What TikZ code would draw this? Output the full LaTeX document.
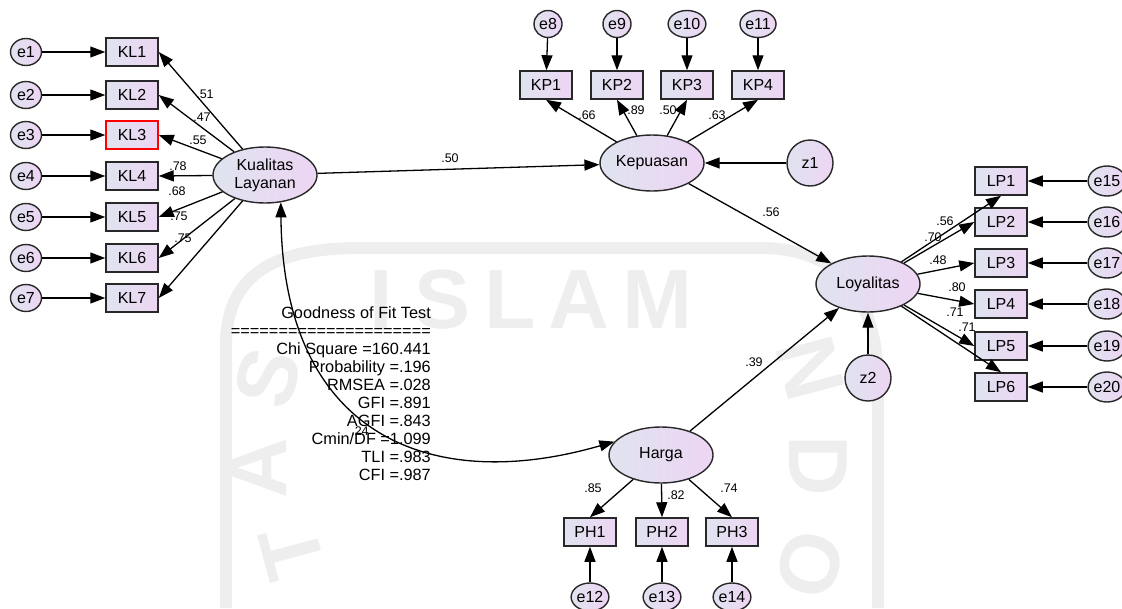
\documentclass[tikz,border=0pt]{standalone}
\usepackage{fontspec}
\setmainfont{Liberation Sans}
\usetikzlibrary{arrows.meta,shapes.geometric}
\definecolor{lcol}{RGB}{224,227,240}
\definecolor{rcol}{RGB}{237,213,243}
\definecolor{wmc}{RGB}{238,238,238}
\definecolor{bord}{RGB}{40,40,40}
\newcommand\labfont{\fontsize{16}{18}\selectfont}
\newcommand\goffont{\fontsize{16.3}{18}\selectfont}
\newcommand\coeffont{\fontsize{12.5}{14}\selectfont}
\newcommand\wmfont{\fontsize{84}{90}\selectfont\bfseries}
\begin{document}
\begin{tikzpicture}[x=1pt,y=-1pt,
  obs/.style={rectangle, draw=bord, line width=1.5pt, left color=lcol, right color=rcol,
    minimum width=52pt, minimum height=28pt, inner sep=0pt, font=\labfont},
  lat/.style={ellipse, draw=bord, line width=1.4pt, left color=lcol, right color=rcol,
    minimum width=104pt, minimum height=56pt, inner sep=0pt, align=center, font=\labfont},
  err/.style={ellipse, draw=bord, line width=1.4pt, left color=lcol, right color=rcol,
    minimum width=31pt, minimum height=27pt, inner sep=0pt, font=\labfont},
  dist/.style={circle, draw=bord, line width=1.4pt, left color=lcol, right color=rcol,
    minimum size=46pt, inner sep=0pt, font=\labfont},
  arr/.style={line width=1.3pt, -{Triangle[length=15pt,width=11pt]}},
  cov/.style={line width=1.3pt, {Triangle[length=15pt,width=11pt]}-{Triangle[length=15pt,width=11pt]}},
  coef/.style={font=\coeffont, inner sep=0pt},
  gofline/.style={font=\goffont, inner sep=0pt, anchor=base east},
  wmtext/.style={font=\wmfont, text=wmc, inner sep=0pt}
]
\useasboundingbox (0,0) rectangle (1122,608);

% faint watermark
\draw[wmc, line width=12pt] (226,608) -- (226,345) .. controls (226,268) and (285,248) .. (360,248) -- (760,248) .. controls (842,248) and (878,300) .. (878,385) -- (878,608);
\node[wmtext, anchor=base] (wmI) at (381,328) {I};
\node[wmtext, anchor=base] (wmS) at (443,328) {S};
\node[wmtext, anchor=base] (wmL) at (510,328) {L};
\node[wmtext, anchor=base] (wmA) at (579,328) {A};
\node[wmtext, anchor=base] (wmM) at (657,328) {M};
\node[wmtext, rotate=75] (wmS2) at (268,378) {S};
\node[wmtext, rotate=90] (wmA2) at (258,468) {A};
\node[wmtext, rotate=105] (wmT2) at (292,552) {T};
\node[wmtext, rotate=-75] (wmN) at (810,368) {N};
\node[wmtext, rotate=-90] (wmD) at (818,466) {D};
\node[wmtext, rotate=-105] (wmO) at (810,565) {O};

% Kualitas Layanan block
\node[lat] (kl) at (265,175) {Kualitas\\Layanan};
\foreach \i/\y in {1/52,2/95,3/135,4/176,5/217,6/258,7/298}{
  \node[err] (e\i) at (26,\y) {e\i};
}
\node[obs] (kl1) at (132,52) {KL1};
\node[obs] (kl2) at (132,95) {KL2};
\node[obs, draw=red] (kl3) at (132,135) {KL3};
\node[obs] (kl4) at (132,176) {KL4};
\node[obs] (kl5) at (132,217) {KL5};
\node[obs] (kl6) at (132,258) {KL6};
\node[obs] (kl7) at (132,298) {KL7};
\foreach \i in {1,...,7}{
  \draw[arr] (e\i) -- (kl\i);
  \draw[arr] (kl) -- (kl\i.east);
}
\node[coef] (c51) at (205,94) {.51};
\node[coef] (c47) at (202,117) {.47};
\node[coef] (c55) at (198,140) {.55};
\node[coef] (c78) at (178,166) {.78};
\node[coef] (c68) at (177,191) {.68};
\node[coef] (c75a) at (179,216) {.75};
\node[coef] (c75b) at (183,238) {.75};

% Kepuasan block
\node[lat] (kp) at (652,163) {Kepuasan};
\node[obs] (kp1) at (546,85) {KP1};
\node[obs] (kp2) at (617,85) {KP2};
\node[obs] (kp3) at (687,85) {KP3};
\node[obs] (kp4) at (758,85) {KP4};
\node[err, minimum width=28pt] (e8) at (548,24) {e8};
\node[err, minimum width=28pt] (e9) at (617,24) {e9};
\node[err, minimum width=28pt] (e10) at (687,24) {e10};
\node[err, minimum width=28pt] (e11) at (758,24) {e11};
\draw[arr] (e8) -- (kp1);
\draw[arr] (e9) -- (kp2);
\draw[arr] (e10) -- (kp3);
\draw[arr] (e11) -- (kp4);
\foreach \i in {1,...,4}{
  \draw[arr] (kp) -- (kp\i.south);
}
\node[coef] (c66) at (587,115) {.66};
\node[coef] (c89) at (636,110) {.89};
\node[coef] (c50b) at (668,110) {.50};
\node[coef] (c63) at (717,115) {.63};
\node[dist] (z1) at (810,163) {z1};
\draw[arr] (z1) -- (kp);

% structural paths
\draw[arr] (kl) -- (kp);
\node[coef] (c50) at (450,158) {.50};

% Loyalitas block
\node[lat] (loy) at (868,284) {Loyalitas};
\node[dist] (z2) at (868,378) {z2};
\draw[arr] (z2) -- (loy);
\draw[arr] (kp) -- (loy);
\node[coef] (c56) at (771,212) {.56};
\foreach \i/\y [evaluate=\i as \j using int(\i+14)] in {1/181,2/222,3/263,4/304,5/346,6/387}{
  \node[obs] (lp\i) at (1001,\y) {LP\i};
  \node[err, minimum width=31pt, minimum height=30pt] (e\j) at (1107,\y) {e\j};
  \draw[arr] (e\j) -- (lp\i);
}
\draw[arr] (loy) -- (lp1.south);
\draw[arr] (loy) -- (lp2.west);
\draw[arr] (loy) -- (lp3.west);
\draw[arr] (loy) -- (lp4.west);
\draw[arr] (loy) -- (lp5.west);
\draw[arr] (loy) -- (lp6.north);
\node[coef] (c56b) at (945,221) {.56};
\node[coef] (c70) at (933,237) {.70};
\node[coef] (c48) at (938,260) {.48};
\node[coef] (c80) at (957,287) {.80};
\node[coef] (c71a) at (955,312) {.71};
\node[coef] (c71b) at (967,327) {.71};

% Harga block
\node[lat] (harga) at (661,455) {Harga};
\draw[arr] (harga) -- (loy);
\node[coef] (c39) at (754,362) {.39};
\node[obs] (ph1) at (590,532) {PH1};
\node[obs] (ph2) at (662,532) {PH2};
\node[obs] (ph3) at (732,532) {PH3};
\node[err, minimum width=31pt, minimum height=28pt] (e12) at (590,597) {e12};
\node[err, minimum width=31pt, minimum height=28pt] (e13) at (662,597) {e13};
\node[err, minimum width=31pt, minimum height=28pt] (e14) at (732,597) {e14};
\draw[arr] (harga) -- (ph1.north);
\draw[arr] (harga) -- (ph2.north);
\draw[arr] (harga) -- (ph3.north);
\draw[arr] (e12) -- (ph1);
\draw[arr] (e13) -- (ph2);
\draw[arr] (e14) -- (ph3);
\node[coef] (c85) at (593,488) {.85};
\node[coef] (c82) at (676,495) {.82};
\node[coef] (c74) at (729,488) {.74};

% goodness of fit text
\node[gofline] (g0) at (431,318) {Goodness of Fit Test};
\node[gofline] (g1) at (431,336) {=====================};
\node[gofline] (g2) at (431,354) {Chi Square =160.441};
\node[gofline] (g3) at (431,372) {Probability =.196};
\node[gofline] (g4) at (431,390) {RMSEA =.028};
\node[gofline] (g5) at (431,408) {GFI =.891};
\node[gofline] (g6) at (431,426) {AGFI =.843};
\node[gofline] (g7) at (431,444) {Cmin/DF =1.099};
\node[gofline] (g8) at (431,462) {TLI =.983};
\node[gofline] (g9) at (431,480) {CFI =.987};

% covariance
\draw[cov] (kl.-60) .. controls (283,435) and (430,495) .. (harga.164);
\node[coef] (c24) at (360,431) {.24};
\end{tikzpicture}
\end{document}
